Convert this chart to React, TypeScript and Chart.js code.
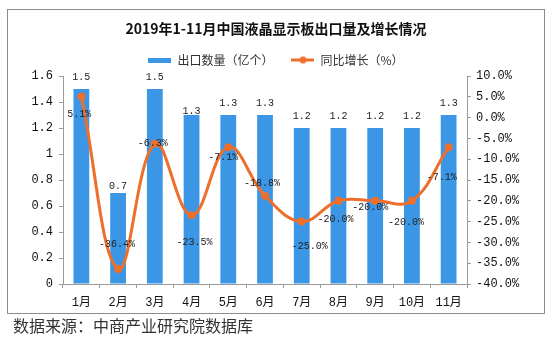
import React, { useEffect, useRef } from 'react';
import { Chart, registerables } from 'chart.js';

Chart.register(...registerables);

// ---- data ----
const months = ['1月', '2月', '3月', '4月', '5月', '6月', '7月', '8月', '9月', '10月', '11月'];
const exportVolume = [1.5, 0.7, 1.5, 1.3, 1.3, 1.3, 1.2, 1.2, 1.2, 1.2, 1.3];
const yoyGrowth = [5.1, -36.4, -6.3, -23.5, -7.1, -18.8, -25.0, -20.0, -20.0, -20.0, -7.1];
const titleText = '2019年1-11月中国液晶显示板出口量及增长情况';
const barSeriesName = '出口数量（亿个）';
const lineSeriesName = '同比增长（%）';
const sourceText = '数据来源：中商产业研究院数据库';

// ---- styles ----
const BAR_COLOR = '#3C96E6';
const LINE_COLOR = '#EE6F2B';
const AXIS_COLOR = '#9A9A9A';
const MONO = '"Liberation Mono", "Noto Sans CJK SC", monospace';
const SANS = '"Noto Sans CJK SC", "Noto Sans", sans-serif';
// label placement (pixels above bar top / shift from line point)
const barLabelLift = [11.5, 7, 11.5, 4, 11.5, 11.5, 11.5, 11.5, 11.5, 11.5, 11.5];
const lineLabelShift: [number, number][] = [
  [-2, 18], [-1, -25], [-2, 0], [3, 27], [-5, 10], [-3, -12],
  [8, 25], [-3, 19], [-5, 7], [-6, 22], [-7, 30],
];

function makeBarSwatch() {
  const c = document.createElement('canvas');
  c.width = 23; c.height = 5;
  const g = c.getContext('2d')!;
  g.fillStyle = BAR_COLOR;
  g.fillRect(0, 0, 23, 5);
  return c;
}
function makeLineSwatch() {
  const c = document.createElement('canvas');
  c.width = 23; c.height = 9;
  const g = c.getContext('2d')!;
  g.strokeStyle = LINE_COLOR;
  g.lineWidth = 3;
  g.beginPath(); g.moveTo(0, 4.5); g.lineTo(23, 4.5); g.stroke();
  g.fillStyle = LINE_COLOR;
  g.beginPath(); g.arc(11.5, 4.5, 3.5, 0, Math.PI * 2); g.fill();
  return c;
}

const valueLabels = {
  id: 'valueLabels',
  afterDatasetsDraw(chart: any) {
    const ctx = chart.ctx;
    ctx.save();
    ctx.font = '10px ' + MONO;
    ctx.fillStyle = '#222';
    ctx.textAlign = 'center';
    ctx.textBaseline = 'middle';
    chart.getDatasetMeta(0).data.forEach((el: any, i: number) => {
      ctx.fillText(exportVolume[i].toFixed(1), el.x, el.y - barLabelLift[i]);
    });
    chart.getDatasetMeta(1).data.forEach((el: any, i: number) => {
      const [dx, dy] = lineLabelShift[i];
      ctx.fillText(yoyGrowth[i].toFixed(1) + '%', el.x + dx, el.y + dy);
    });
    ctx.restore();
  },
};

export default function App() {
  const ref = useRef<HTMLCanvasElement | null>(null);

  useEffect(() => {
    if (!ref.current) return;
    const barSwatch = makeBarSwatch();
    const lineSwatch = makeLineSwatch();
    const chart = new Chart(ref.current, {
      type: 'bar',
      data: {
        labels: months,
        datasets: [
          {
            type: 'bar',
            label: barSeriesName,
            data: exportVolume,
            backgroundColor: BAR_COLOR,
            yAxisID: 'y',
            barPercentage: 0.43,
            categoryPercentage: 1,
            order: 1,
          },
          {
            type: 'line',
            label: lineSeriesName,
            data: yoyGrowth,
            borderColor: LINE_COLOR,
            backgroundColor: LINE_COLOR,
            borderWidth: 3,
            tension: 0.4,
            pointRadius: 4,
            pointBorderWidth: 0,
            pointBackgroundColor: LINE_COLOR,
            yAxisID: 'y1',
            order: 0,
          } as any,
        ],
      },
      options: {
        responsive: false,
        animation: false,
        devicePixelRatio: 1,
        layout: { padding: { top: 9, left: 8, right: 16, bottom: 33 } },
        plugins: {
          tooltip: { enabled: false },
          title: {
            display: true,
            text: titleText,
            color: '#111',
            font: { family: SANS, size: 14, weight: 'bold', lineHeight: 1 },
            padding: { top: 13, bottom: 0 },
          },
          legend: {
            display: true,
            position: 'top',
            labels: {
              usePointStyle: true,
              pointStyleWidth: 23,
              padding: 18,
              color: '#333',
              font: { family: SANS, size: 12 },
              generateLabels: (c: any) => {
                const items = (Chart.defaults.plugins.legend.labels as any).generateLabels(c);
                items.sort((a: any, b: any) => a.datasetIndex - b.datasetIndex);
                items.forEach((it: any) => {
                  it.pointStyle = it.datasetIndex === 0 ? barSwatch : lineSwatch;
                });
                return items;
              },
            },
          },
        },
        scales: {
          x: {
            offset: true,
            grid: { display: true, drawOnChartArea: false, drawTicks: true, tickLength: 4, offset: true, color: AXIS_COLOR },
            border: { display: true, color: AXIS_COLOR },
            ticks: { color: '#111', font: { family: MONO, size: 12 }, padding: 8, maxRotation: 0, autoSkip: false },
            afterFit: (s: any) => { s.height = 28; },
          },
          y: {
            position: 'left',
            min: 0,
            max: 1.6,
            ticks: {
              stepSize: 0.2,
              color: '#111',
              font: { family: MONO, size: 12 },
              padding: 6,
              callback: (v: any) => String(Number(Number(v).toFixed(1))),
            },
            grid: { display: true, drawOnChartArea: false, drawTicks: true, tickLength: 4, color: AXIS_COLOR },
            border: { display: true, color: AXIS_COLOR },
            afterFit: (s: any) => { s.width = 55; },
          },
          y1: {
            position: 'right',
            min: -40,
            max: 10,
            ticks: {
              stepSize: 5,
              color: '#111',
              font: { family: MONO, size: 12 },
              padding: 5,
              callback: (v: any) => Number(v).toFixed(1) + '%',
            },
            grid: { display: true, drawOnChartArea: false, drawTicks: true, tickLength: 4, color: AXIS_COLOR },
            border: { display: true, color: AXIS_COLOR },
            afterFit: (s: any) => { s.width = 77; },
          },
        },
      } as any,
      plugins: [valueLabels],
    });
    return () => chart.destroy();
  }, []);

  return (
    <div style={{ position: 'fixed', left: 0, top: 0, width: 560, height: 345, background: '#fff' }}>
      <div
        style={{
          position: 'absolute', left: 7, top: 9, width: 538, height: 305,
          boxSizing: 'border-box', border: '1px solid #8c8c8c',
        }}
      />
      <canvas ref={ref} width={560} height={345} style={{ position: 'absolute', left: 0, top: 0, width: 560, height: 345 }} />
      <div
        style={{
          position: 'absolute', left: 13, top: 315, fontFamily: SANS, fontSize: 16,
          lineHeight: '20px', color: '#333', whiteSpace: 'nowrap',
        }}
      >
        {sourceText}
      </div>
    </div>
  );
}
